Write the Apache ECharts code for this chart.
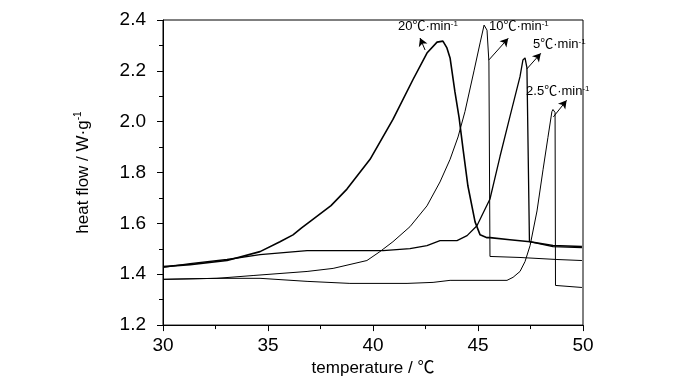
<!DOCTYPE html>
<html>
<head>
<meta charset="utf-8">
<script src="https://cdn.jsdelivr.net/npm/echarts@6/dist/echarts.min.js"></script>
<style>html,body{margin:0;padding:0;background:#fff}#c{width:700px;height:382px}</style>
</head>
<body>
<div id="c"></div>
<script>
// ---- data (temperature in °C, heat flow in W/g) ----
const t20 = [30.00,31.29,33.05,34.62,35.57,36.19,36.60,37.20,38.00,38.76,39.86,40.95,41.90,42.57,43.05,43.33,43.52,43.67,43.90,44.10,44.29,44.52,44.86,45.10,45.43,45.57,46.52,47.48,48.57,49.95];
const h20 = [1.430,1.438,1.454,1.489,1.528,1.555,1.582,1.620,1.670,1.735,1.852,2.009,2.165,2.270,2.313,2.317,2.290,2.251,2.118,2.016,1.891,1.747,1.606,1.555,1.544,1.544,1.536,1.528,1.513,1.509];

const t10 = [30.00,32.57,34.29,36.86,38.10,39.71,40.33,40.95,41.76,42.57,43.19,43.67,44.05,44.38,44.81,45.10,45.29,45.43,45.52,45.57,47.00,48.76,49.95];
const h10 = [1.380,1.384,1.395,1.411,1.423,1.454,1.489,1.528,1.587,1.669,1.763,1.852,1.940,2.040,2.200,2.310,2.380,2.360,2.235,1.470,1.466,1.458,1.454];

const t5 = [30.00,31.29,33.05,34.62,36.86,38.43,40.48,41.76,42.57,43.19,44.00,44.48,44.95,45.57,46.05,46.52,47.00,47.14,47.24,47.33,47.45,48.57,49.95];
const h5 = [1.427,1.442,1.458,1.477,1.493,1.493,1.493,1.501,1.513,1.532,1.532,1.552,1.591,1.696,1.864,2.020,2.177,2.243,2.251,2.212,1.528,1.509,1.505];

const t25 = [30.00,32.57,34.62,36.86,38.90,41.62,42.86,43.67,46.38,46.67,47.00,47.24,47.48,47.81,48.10,48.33,48.52,48.57,48.67,48.69,48.76,49.95];
const h25 = [1.380,1.384,1.384,1.372,1.364,1.364,1.368,1.376,1.376,1.388,1.411,1.450,1.513,1.649,1.813,1.938,2.040,2.048,2.036,1.356,1.352,1.348];

// tick settings
const xMin = 30, xMax = 50, xStep = 5;
const yMin = 1.2, yMax = 2.4, yStep = 0.2;

// annotation labels: text, label anchor [x,y], arrow start [x,y], arrow end [x,y]
const labelRates = ['20℃·min', '10℃·min', '5℃·min', '2.5℃·min'];
const labelAnchors = [[41.19, 2.373], [45.52, 2.373], [47.62, 2.302], [47.29, 2.119]];
const arrowStarts = [[42.48, 2.282], [45.52, 2.243], [47.32, 2.207], [48.59, 2.019]];
const arrowEnds = [[42.24, 2.329], [46.44, 2.328], [47.99, 2.269], [49.22, 2.084]];

const FONT = "'Liberation Sans Narrow','Arial Narrow','Liberation Sans','Noto Sans CJK SC',sans-serif";

function pairs(xs, ys) { return xs.map((x, i) => [x, ys[i]]); }

const chart = echarts.init(document.getElementById('c'), null, {renderer: 'canvas'});

const markPointData = labelRates.map((txt, i) => ({
  coord: labelAnchors[i],
  symbolSize: 0,
  label: {
    show: true, position: 'right', distance: 0,
    formatter: '{a|' + txt + '}{s|-1}',
    rich: {
      a: {fontFamily: FONT, fontSize: 13, color: '#000', lineHeight: 14},
      s: {fontFamily: FONT, fontSize: 8, color: '#000', verticalAlign: 'top', lineHeight: 14}
    }
  }
}));

const markLineData = arrowStarts.map((s, i) => [{coord: s}, {coord: arrowEnds[i]}]);

const lineBase = {type: 'line', showSymbol: false, symbol: 'none', smooth: false, clip: false, silent: true, animation: false};

const option = {
  animation: false,
  backgroundColor: '#fff',
  grid: {left: 163, top: 20, width: 420, height: 307, show: true, borderColor: '#000', borderWidth: 1, containLabel: false},
  xAxis: {
    type: 'value', min: xMin, max: xMax, interval: xStep,
    name: 'temperature / ℃', nameLocation: 'middle', nameGap: 33,
    nameTextStyle: {fontFamily: FONT, fontSize: 17, color: '#000'},
    axisLine: {lineStyle: {color: '#000', width: 1}},
    axisTick: {show: true, length: 6, lineStyle: {color: '#000'}},
    minorTick: {show: true, splitNumber: 2, length: 4, lineStyle: {color: '#000'}},
    splitLine: {show: false},
    axisLabel: {fontFamily: FONT, fontSize: 19, color: '#000', margin: 11, formatter: v => String(Math.round(v))}
  },
  yAxis: {
    type: 'value', min: yMin, max: yMax, interval: yStep,
    name: '{a|heat flow / W·g}{s|-1}', nameLocation: 'middle', nameGap: 70,
    nameTextStyle: {
      color: '#000',
      rich: {
        a: {fontFamily: FONT, fontSize: 17, color: '#000', lineHeight: 20},
        s: {fontFamily: FONT, fontSize: 10, color: '#000', verticalAlign: 'top', lineHeight: 20}
      }
    },
    axisLine: {show: true, lineStyle: {color: '#000', width: 1}},
    axisTick: {show: true, length: 6, lineStyle: {color: '#000'}},
    minorTick: {show: true, splitNumber: 2, length: 4, lineStyle: {color: '#000'}},
    splitLine: {show: false},
    axisLabel: {fontFamily: FONT, fontSize: 19, color: '#000', margin: 17, formatter: v => v.toFixed(1)}
  },
  series: [
    Object.assign({}, lineBase, {name: '20', data: pairs(t20, h20), lineStyle: {color: '#000', width: 1.6},
      markPoint: {silent: true, animation: false, data: markPointData},
      markLine: {silent: true, animation: false, symbol: ['none', 'arrow'], symbolSize: [7, 8],
        lineStyle: {color: '#000', type: 'solid', width: 1}, label: {show: false}, data: markLineData}
    }),
    Object.assign({}, lineBase, {name: '10', data: pairs(t10, h10), lineStyle: {color: '#000', width: 1}}),
    Object.assign({}, lineBase, {name: '5', data: pairs(t5, h5), lineStyle: {color: '#000', width: 1.3}}),
    Object.assign({}, lineBase, {name: '2.5', data: pairs(t25, h25), lineStyle: {color: '#000', width: 1}})
  ]
};
chart.setOption(option);
</script>
</body>
</html>
